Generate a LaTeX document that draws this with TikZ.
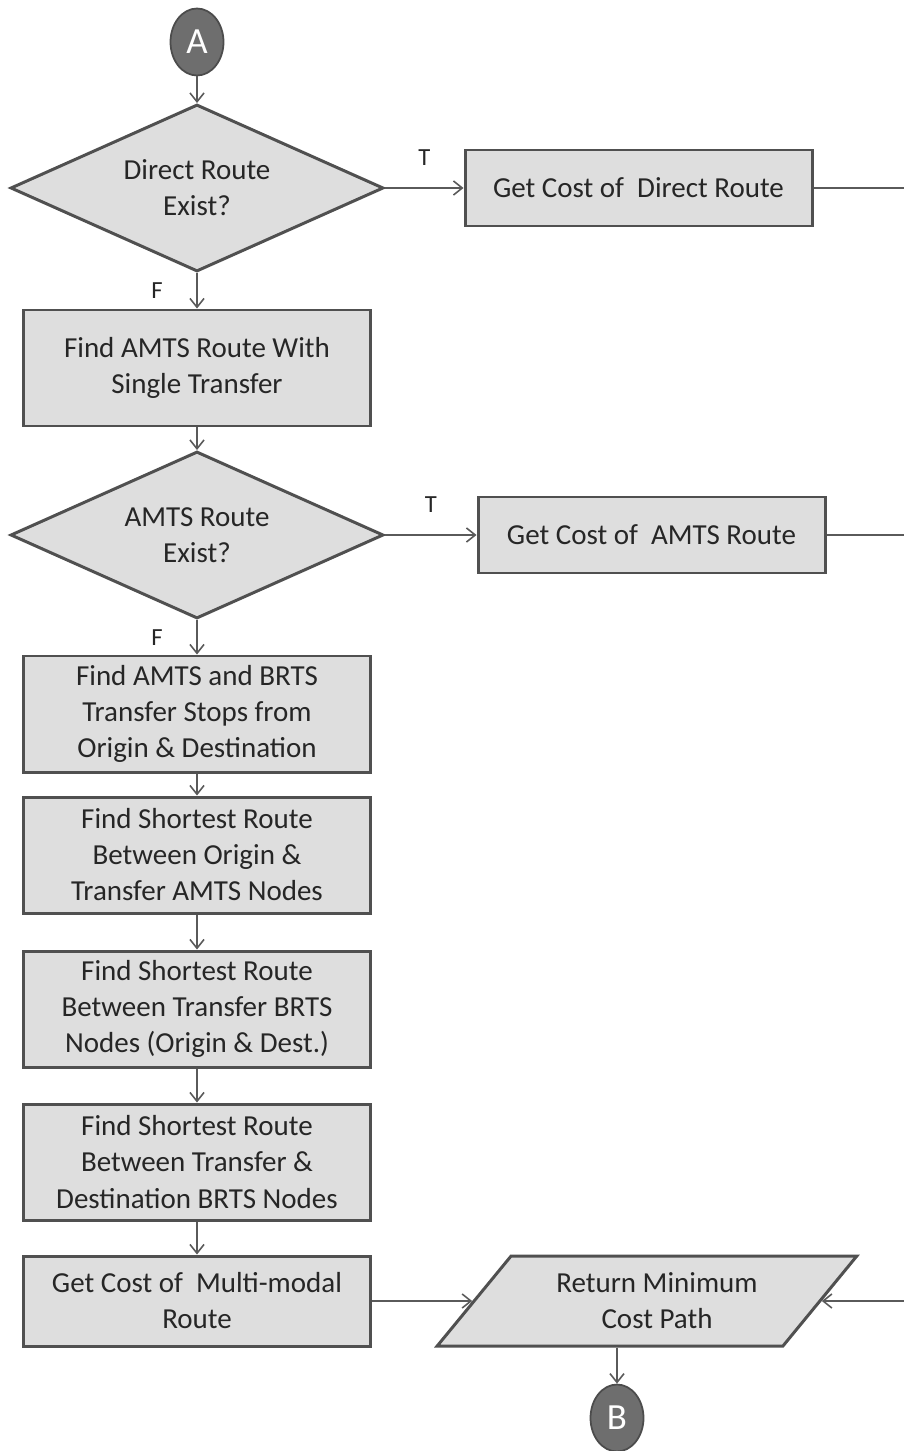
\documentclass[tikz,border=0pt]{standalone}
\usepackage{fontspec}
\setmainfont{Carlito}
\usetikzlibrary{arrows.meta, shapes.geometric, positioning}
\definecolor{boxfill}{HTML}{DEDEDE}
\definecolor{boxline}{HTML}{505050}
\definecolor{wire}{HTML}{5A5A5A}
\definecolor{termfill}{HTML}{6E6E6E}

\begin{document}
\begin{tikzpicture}[node distance=3cm,
  every node/.style={font=\fontsize{16.5pt}{20.5pt}\selectfont, text=black!85},
  process/.style={draw=boxline, fill=boxfill, line width=1.7pt, rectangle,
    minimum width=6.94cm, minimum height=2.32cm, align=center},
  decision/.style={draw=boxline, fill=boxfill, line width=1.7pt, diamond, aspect=2.23,
    minimum width=7.46cm, minimum height=3.34cm, inner sep=0pt, align=center},
  io/.style={draw=boxline, fill=boxfill, line width=1.7pt, trapezium,
    trapezium left angle=47, trapezium right angle=133, trapezium stretches=true,
    minimum width=8.4cm, minimum height=1.8cm, align=center},
  terminal/.style={draw=black!70, fill=termfill, line width=1pt, ellipse,
    minimum width=1.06cm, minimum height=1.34cm, inner sep=0pt, text=white,
    font=\fontsize{21pt}{24pt}\selectfont},
  tf/.style={inner sep=0pt, font=\fontsize{14pt}{16pt}\selectfont},
  flow/.style={draw=wire, line width=0.9pt, -{Straight Barb[length=5pt, width=8pt]}},
  link/.style={draw=wire, line width=0.9pt}
]
\useasboundingbox (0,0) rectangle (18.08,-29.02);
\coordinate (rim) at (18.08,0);

\node (A) at (3.94,-0.84) [terminal] {A};
\node (D1) [below of=A, yshift=0.08cm, decision] {Direct Route\\Exist?};
\node (G1) [right of=D1, xshift=5.83cm, process, minimum height=1.52cm] {Get Cost of~~Direct Route};
\node (B1) [below of=D1, yshift=-0.6cm, process] {Find AMTS Route With\\Single Transfer};
\node (D2) [below of=B1, yshift=-0.34cm, decision] {AMTS Route\\Exist?};
\node (G2) [right of=D2, xshift=6.09cm, process, minimum height=1.52cm] {Get Cost of~~AMTS Route};
\node (B3) [below of=D2, yshift=-0.58cm, process] {Find AMTS and BRTS\\Transfer Stops from\\Origin \& Destination};
\node (B4) [below of=B3, yshift=0.18cm, process] {Find Shortest Route\\Between Origin \&\\Transfer AMTS Nodes};
\node (B5) [below of=B4, yshift=-0.08cm, process] {Find Shortest Route\\Between Transfer BRTS\\Nodes (Origin \& Dest.)};
\node (B6) [below of=B5, yshift=-0.06cm, process] {Find Shortest Route\\Between Transfer \&\\Destination BRTS Nodes};
\node (B7) [below of=B6, yshift=0.22cm, process, minimum height=1.8cm] {Get Cost of~~Multi-modal\\Route};
\node (P) [right of=B7, xshift=6cm, io] {\hspace*{0.4cm}Return Minimum\\\hspace*{0.4cm}Cost Path};
\node (B) [below of=P, xshift=-0.6cm, yshift=0.66cm, terminal] {B};

\draw[flow] (A) -- (D1);
\draw[flow] (D1.east) -- node[tf, above=0.44cm] (t1) {T} (G1.west);
\draw[flow] (D1.south) -- node[tf, left=0.67cm] (f1) {F} (B1.north);
\draw[link] (G1.east) -- (G1 -| rim);
\draw[flow] (B1) -- (D2);
\draw[flow] (D2.east) -- node[tf, above=0.44cm] (t2) {T} (G2.west);
\draw[flow] (D2.south) -- node[tf, left=0.67cm] (f2) {F} (B3.north);
\draw[link] (G2.east) -- (G2 -| rim);
\draw[flow] (B3) -- (B4);
\draw[flow] (B4) -- (B5);
\draw[flow] (B5) -- (B6);
\draw[flow] (B6) -- (B7);
\draw[flow] (B7.east) -- (P.west);
\draw[flow] (P -| rim) -- (P.east);
\draw[flow] (P.south -| B) -- (B);
\end{tikzpicture}
\end{document}
